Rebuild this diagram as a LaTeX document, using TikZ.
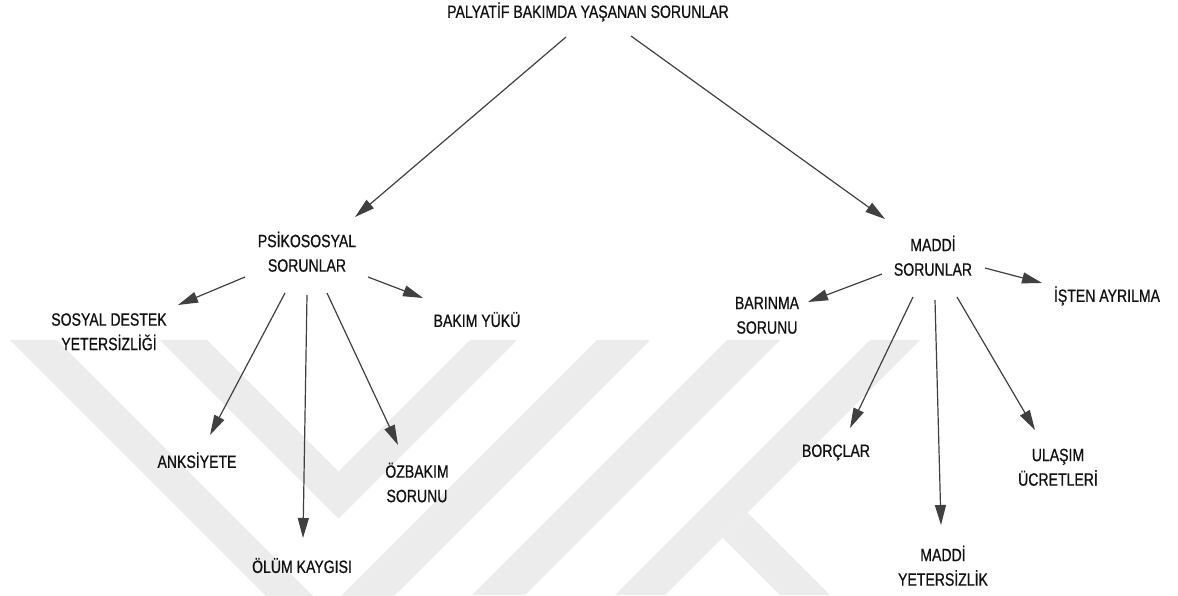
\documentclass[tikz,border=0pt]{standalone}
\usepackage{fontspec}
\newfontfamily\labelfont{Liberation Sans}[FakeStretch=0.79,FakeBold=0.7]
\usetikzlibrary{arrows.meta,calc}
\definecolor{ink}{HTML}{111111}
\definecolor{arrowgray}{HTML}{404040}
\definecolor{markgray}{HTML}{ECECEC}
\tikzset{
  lbl/.style={font=\labelfont\fontsize{17.8}{24.5}\selectfont, text=ink, align=center, inner sep=0pt},
  conn/.style={draw=arrowgray, line width=1.2pt, -{Triangle[length=20pt,width=11pt]}},
  emblem/.style={fill=markgray, draw=none}
}
\begin{document}
\begin{tikzpicture}[x=1pt,y=-1pt]
\useasboundingbox (0,0) rectangle (1178,595);
\fill[white] (0,0) rectangle (1178,595);

% faint emblem in the background
\begin{scope}
  \clip (0,0) rectangle (1178,595);
  \fill[emblem] (10,340) -- (330,660) -- (650,340) -- (597,340) -- (327,610) -- (57,340) -- cycle;
  \fill[emblem] (160,340) -- (338.5,518.5) -- (517,340) -- (470,340) -- (338.5,471.5) -- (207,340) -- cycle;
  \fill[emblem] (727,340) -- (780,340) -- (525,595) -- (472,595) -- cycle;
  \fill[emblem] (870,340) -- (920,340) -- (665,595) -- (615,595) -- cycle;
  \fill[emblem] (747.5,512.5) -- (830,595) -- (780,595) -- (722.5,537.5) -- cycle;
\end{scope}

% labels
\node[lbl] (root)  at (588,13)    {PALYATİF BAKIMDA YAŞANAN SORUNLAR\strut};
\node[lbl] (psiko) at (307,254.5) {PSİKOSOSYAL\strut\\SORUNLAR\strut};
\node[lbl] (maddi) at (933,258.5) {MADDİ\strut\\SORUNLAR\strut};

\node[lbl] (sosyal) at (109,333)   {SOSYAL DESTEK\strut\\YETERSİZLİĞİ\strut};
\node[lbl] (bakim)  at (477,322)   {BAKIM YÜKÜ\strut};
\node[lbl] (anks)   at (197,463)   {ANKSİYETE\strut};
\node[lbl] (olum)   at (302,568)   {ÖLÜM KAYGISI\strut};
\node[lbl] (ozbak)  at (417,485)   {ÖZBAKIM\strut\\SORUNU\strut};

\node[lbl] (barin)  at (767,316.5) {BARINMA\strut\\SORUNU\strut};
\node[lbl] (isten)  at (1107,297)  {İŞTEN AYRILMA\strut};
\node[lbl] (borc)   at (836,452)   {BORÇLAR\strut};
\node[lbl] (ulas)   at (1058,468.5){ULAŞIM\strut\\ÜCRETLERİ\strut};
\node[lbl] (mytr)   at (943,568.5) {MADDİ\strut\\YETERSİZLİK\strut};

% connectors
\draw[conn] ($(root)+(-22,24)$) -- ($(psiko)+(48,-37.5)$);
\draw[conn] ($(root)+(43,23)$)  -- ($(maddi)+(-48,-39.5)$);

\draw[conn] ($(psiko)+(-62,22.5)$) -- ($(sosyal)+(69,-28)$);
\draw[conn] ($(psiko)+(61,22.5)$)  -- ($(bakim)+(-54,-24)$);
\draw[conn] ($(psiko)+(-22,38.5)$) -- ($(anks)+(13,-28)$);
\draw[conn] ($(psiko)+(0,40.5)$)   -- ($(olum)+(1,-30)$);
\draw[conn] ($(psiko)+(20,38.5)$)  -- ($(ozbak)+(-19,-40)$);

\draw[conn] ($(maddi)+(-51,15.5)$) -- ($(barin)+(41,-14.5)$);
\draw[conn] ($(maddi)+(52,9.5)$)   -- ($(isten)+(-65,-14)$);
\draw[conn] ($(maddi)+(-20,38.5)$) -- ($(borc)+(14,-24)$);
\draw[conn] ($(maddi)+(2,41.5)$)   -- ($(mytr)+(-2,-43.5)$);
\draw[conn] ($(maddi)+(24,38.5)$)  -- ($(ulas)+(-23,-38.5)$);
\end{tikzpicture}
\end{document}
